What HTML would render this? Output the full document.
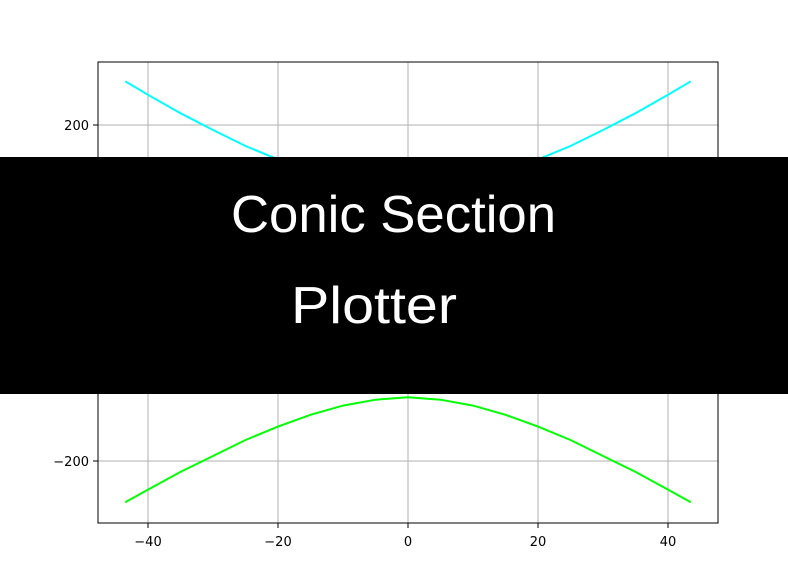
<!DOCTYPE html>
<html><head><meta charset="utf-8"><style>
html,body{margin:0;padding:0;background:#fff;width:788px;height:588px;overflow:hidden}
svg{display:block}
text{font-family:"DejaVu Sans","Liberation Sans",sans-serif}
</style></head><body>
<svg id="chart" width="788" height="588">
<g id="grid"></g>
<g id="series"></g>
<rect x="98" y="62" width="620" height="461" fill="none" stroke="#000" stroke-width="1"/>
<g id="ticks"></g>
<rect x="0" y="157" width="788" height="237" fill="#000"/>
<text x="231" y="232" font-size="52" fill="#fff" textLength="325" lengthAdjust="spacingAndGlyphs" style="font-family:'Liberation Sans',sans-serif">Conic Section</text>
<text x="291" y="323" font-size="52" fill="#fff" textLength="166" lengthAdjust="spacingAndGlyphs" style="font-family:'Liberation Sans',sans-serif">Plotter</text>
</svg>
<script>
const xValues=[-43.5,-40,-35,-30,-25,-20,-15,-10,-5,0,5,10,15,20,25,30,35,40,43.5];
const upperY=[252,236,214,194,175,159,145,134,127,124,127,134,145,159,175,194,214,236,252];
const lowerY=[-249,-234,-213,-194,-175,-159,-145,-134,-127,-124,-127,-134,-145,-159,-175,-194,-213,-234,-249];
const xTicks=[-40,-20,0,20,40];
const yTicks=[-200,0,200];
const yTickLabels=["\u2212200","0","200"];
const xTickLabels=["\u221240","\u221220","0","20","40"];
const sx=v=>408+v*6.5, sy=v=>293-v*0.84;
const NS="http://www.w3.org/2000/svg";
const g=document.getElementById('grid'),t=document.getElementById('ticks'),s=document.getElementById('series');
function mk(tag,attrs,parent){const e=document.createElementNS(NS,tag);for(const k in attrs)e.setAttribute(k,attrs[k]);parent.appendChild(e);return e;}
xTicks.forEach((v,i)=>{
 const l=mk('line',{x1:sx(v),x2:sx(v),y1:62,y2:523,stroke:'#b0b0b0','stroke-width':1},g);
 
 
 const tk=mk('line',{x1:sx(v),x2:sx(v),y1:523,y2:528,stroke:'#000'},t);
 
 
 const tx=mk('text',{x:sx(v),y:546,'font-size':13,'text-anchor':'middle',fill:'#000'},t);
 tx.textContent=xTickLabels[i];
 
 
});
yTicks.forEach((v,i)=>{
 const l=mk('line',{x1:98,x2:718,y1:sy(v),y2:sy(v),stroke:'#b0b0b0','stroke-width':1},g);
 
 
 const tk=mk('line',{x1:93,x2:98,y1:sy(v),y2:sy(v),stroke:'#000'},t);
 
 
 const tx=mk('text',{x:89,y:sy(v)+5,'font-size':13,'text-anchor':'end',fill:'#000'},t);
 tx.textContent=yTickLabels[i];
 
 
});
function path(ys){return xValues.map((x,i)=>(i?'L':'M')+sx(x).toFixed(1)+','+sy(ys[i]).toFixed(1)).join(' ');}
const up=mk('path',{d:path(upperY),fill:'none',stroke:'#00ffff','stroke-width':2},s);


const lo=mk('path',{d:path(lowerY),fill:'none',stroke:'#00ff00','stroke-width':2},s);


</script>
</body></html>
